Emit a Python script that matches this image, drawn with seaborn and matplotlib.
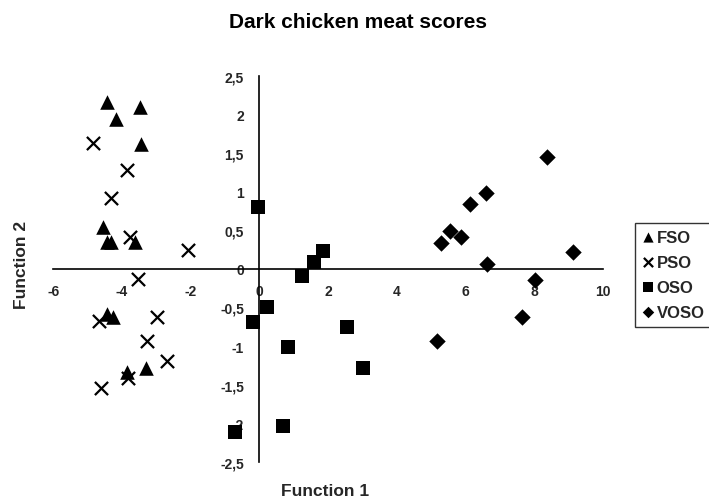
import matplotlib
matplotlib.use("Agg")
import matplotlib.pyplot as plt
import seaborn as sns
import pandas as pd

# discriminant scores
fso_x = [-4.42, -3.46, -4.16, -3.43, -4.56, -4.42, -4.33, -3.63, -4.42, -4.27, -3.84, -3.31]
fso_y = [2.16, 2.10, 1.94, 1.62, 0.54, 0.35, 0.35, 0.35, -0.58, -0.62, -1.33, -1.29]

pso_x = [-4.83, -3.84, -4.33, -3.75, -2.06, -3.52, -4.68, -2.97, -3.26, -2.70, -4.62, -3.81]
pso_y = [1.63, 1.28, 0.92, 0.41, 0.25, -0.13, -0.67, -0.62, -0.93, -1.19, -1.55, -1.42]

oso_x = [-0.03, 1.86, 1.60, 1.25, 0.23, -0.17, 2.56, 0.84, 3.02, 0.70, -0.70]
oso_y = [0.80, 0.23, 0.09, -0.09, -0.49, -0.69, -0.75, -1.01, -1.28, -2.04, -2.11]

voso_x = [8.37, 6.60, 6.13, 5.55, 5.87, 5.29, 9.13, 6.63, 8.02, 7.65, 5.17]
voso_y = [1.45, 0.98, 0.84, 0.49, 0.41, 0.34, 0.22, 0.06, -0.14, -0.63, -0.94]

groups = ["FSO", "PSO", "OSO", "VOSO"]
x_ticks = [-6, -4, -2, 0, 2, 4, 6, 8, 10]
y_ticks = [-2.5, -2, -1.5, -1, -0.5, 0, 0.5, 1, 1.5, 2, 2.5]
y_tick_labels = ["-2,5", "-2", "-1,5", "-1", "-0,5", "0", "0,5", "1", "1,5", "2", "2,5"]

rows = []
for g, xs, ys in zip(groups, [fso_x, pso_x, oso_x, voso_x], [fso_y, pso_y, oso_y, voso_y]):
    for a, b in zip(xs, ys):
        rows.append({"f1": a, "f2": b, "group": g})
df = pd.DataFrame(rows)

sns.set_style("white")
plt.rcParams["font.family"] = ["Liberation Sans", "DejaVu Sans"]
plt.rcParams["font.weight"] = "bold"

fig = plt.figure(figsize=(7.09, 5.02), dpi=100)
ax = fig.add_axes([0.075, 0.078, 0.775, 0.769])

markers = {"FSO": "^", "PSO": "x", "OSO": "s", "VOSO": "D"}
sizes = {"FSO": 110, "PSO": 90, "OSO": 90, "VOSO": 70}
for g in groups:
    sub = df[df["group"] == g]
    sns.scatterplot(data=sub, x="f1", y="f2", marker=markers[g], color="black",
                    s=sizes[g], linewidth=1.6 if g == "PSO" else 0, ax=ax, label=g)

ax.set_xlim(-6, 10)
ax.set_ylim(-2.5, 2.5)
ax.spines["left"].set_position(("data", 0))
ax.spines["bottom"].set_position(("data", 0))
ax.spines["right"].set_visible(False)
ax.spines["top"].set_visible(False)
for s in ["left", "bottom"]:
    ax.spines[s].set_color("black")
    ax.spines[s].set_linewidth(1.2)

ax.set_xticks(x_ticks)
ax.set_xticklabels([str(t) for t in x_ticks], fontsize=10, fontweight="bold")
ax.set_yticks(y_ticks)
ax.set_yticklabels(y_tick_labels, fontsize=10, fontweight="bold")
ax.tick_params(axis="both", direction="out", length=3, width=1, color="black", pad=8)
ax.set_xlabel("")
ax.set_ylabel("")

fig.text(0.505, 0.955, "Dark chicken meat scores", ha="center", va="center",
         fontsize=15, fontweight="bold", color="black")
fig.text(0.459, 0.02, "Function 1", ha="center", va="center", fontsize=12.5, fontweight="bold")
fig.text(0.03, 0.472, "Function 2", ha="center", va="center", rotation=90,
         fontsize=12.5, fontweight="bold")

leg = ax.legend(loc="upper left", bbox_to_anchor=(0.884, 0.57), bbox_transform=fig.transFigure,
                frameon=True, fancybox=False, edgecolor="black", handletextpad=0.1,
                handlelength=0.8, borderpad=0.4, labelspacing=0.6,
                prop={"weight": "bold", "size": 12}, markerscale=0.7)
leg.get_frame().set_linewidth(1.0)

fig.savefig("out.png", dpi=100)
